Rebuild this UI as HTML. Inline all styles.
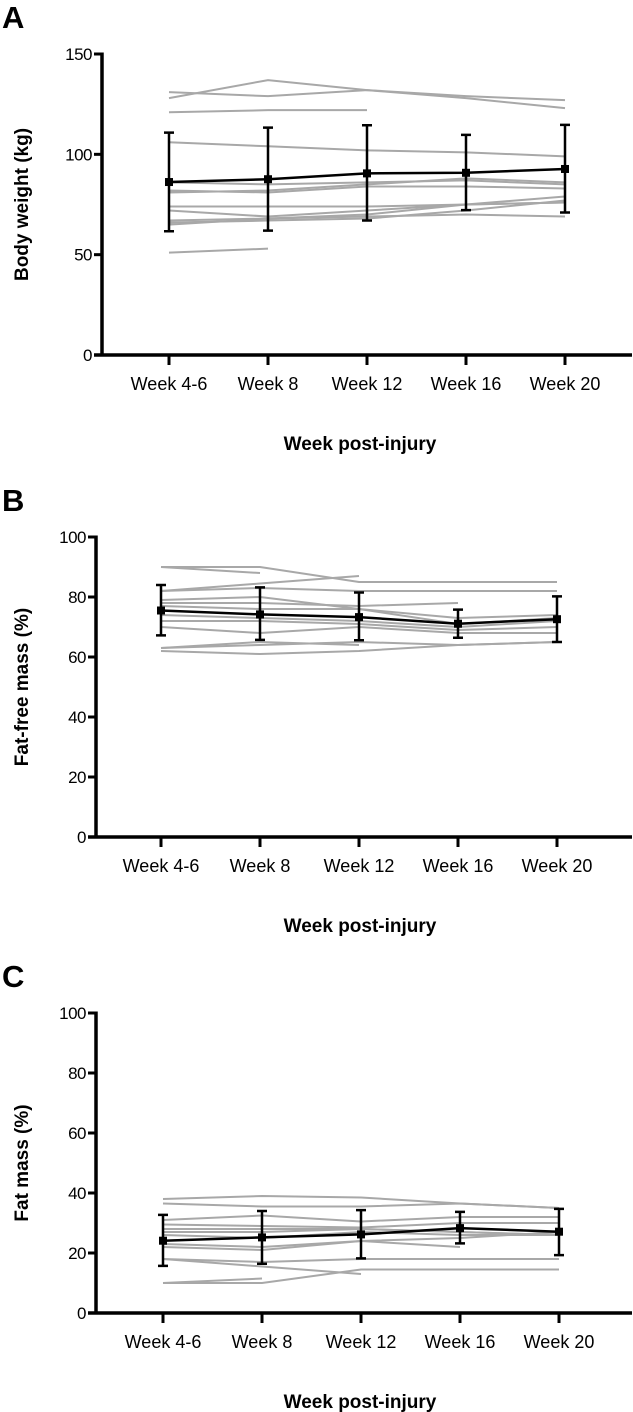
<!DOCTYPE html>
<html><head><meta charset="utf-8">
<style>
html,body{margin:0;padding:0;background:#fff;}
svg{display:block;font-family:"Liberation Sans",Arial,sans-serif;}
</style></head>
<body>
<svg id="fig" width="633" height="1412" viewBox="0 0 633 1412"></svg>
<script>
const categories = ["Week 4-6","Week 8","Week 12","Week 16","Week 20"];

const aTicks = [0,50,100,150];
const aMean = [86.2,87.6,90.5,90.8,92.7];
const aUpper = [110.8,113.3,114.5,109.7,114.7];
const aLower = [61.7,62,67,72.2,71];
const aIndiv = [
 [128,137,132,128,123],[131,129,132,129,127],[121,122,122,null,null],
 [106,104,102,101,99],[86,85,86,87,85],[82,81,84,84,83],[81,82,85,88,86],
 [74,74,74,75,76],[72,69,72,75,79],[67,68,69,70,69],[66,67,68,72,77],
 [65,68,70,75,76],[51,53,null,null,null]];

const bTicks = [0,20,40,60,80,100];
const bMean = [75.5,74.2,73.3,71.1,72.6];
const bUpper = [84,83.2,81.5,75.8,80.2];
const bLower = [67.2,65.7,65.6,66.4,65];
const bIndiv = [
 [90,90,85,85,85],[90,88,null,null,null],[82,84.5,87,null,null],[82,83,82,82,82],
 [79,80,76,73,74],[78,78,77,78,null],[77,76,76,71,73],[74,73,72,70,72],
 [72,72,71,69,70],[70,68,70,68,68],[63,65,64,null,null],[63,64,65,64,65],[62,61,62,64,65]];

const cTicks = [0,20,40,60,80,100];
const cMean = [24.1,25.2,26.2,28.3,27.1];
const cUpper = [32.7,34,34.3,33.7,34.7];
const cLower = [15.7,16.4,18.2,23.2,19.3];
const cIndiv = [
 [38,39,38.5,36.5,35],[36.5,35.5,35.5,36.5,35],[31,32.5,30.5,32,32],[29.5,29,28.5,30,30],
 [28,28,28,27,26],[27,27,28,27,26],[26,25,27,26,26],[23,22,24,25,27],[22,21,24,22,null],
 [18,17,18,18,18],[18,15.5,13,null,null],[10,10,14.5,14.5,14.5],[10,11.5,null,null,null]];

const NS = "http://www.w3.org/2000/svg";
const svg = document.getElementById('fig');
function mk(tag, attrs, parent){
  const e = document.createElementNS(NS, tag);
  for (const k in attrs) e.setAttribute(k, attrs[k]);
  (parent||svg).appendChild(e);
  return e;
}

function panel(cfg){
  const g = mk('g', {});
  
  
  const yS = v => cfg.y0 - v * (cfg.y0 - cfg.yTop) / cfg.max;
  const xS = i => cfg.x0 + cfg.step * i;

  const letter = mk('text', {x:2, y:cfg.yTop-26, 'font-size':31, 'font-weight':'bold', fill:'#000'}, g);
  letter.textContent = cfg.letter;
  
  

  cfg.indiv.forEach(series => {
    let d = '', started = false;
    series.forEach((v, i) => {
      if (v === null) { started = false; return; }
      d += (started ? 'L' : 'M') + xS(i) + ' ' + yS(v) + ' ';
      started = true;
    });
    const p = mk('path', {d:d, fill:'none', stroke:'#a8a8a8', 'stroke-width':2}, g);
    
    
  });

  cfg.mean.forEach((m, i) => {
    const x = xS(i);
    const eb = mk('path', {d:`M${x} ${yS(cfg.upper[i])}V${yS(cfg.lower[i])}M${x-5} ${yS(cfg.upper[i])}H${x+5}M${x-5} ${yS(cfg.lower[i])}H${x+5}`, stroke:'#000', 'stroke-width':2.5, fill:'none'}, g);
    
    
  });
  const md = cfg.mean.map((m,i)=>(i?'L':'M')+xS(i)+' '+yS(m)).join(' ');
  const ml = mk('path', {d:md, stroke:'#000', 'stroke-width':2.5, fill:'none'}, g);
  
  
  cfg.mean.forEach((m, i) => {
    const r = mk('rect', {x:xS(i)-4, y:yS(m)-4, width:8, height:8, fill:'#000'}, g);
    
    
  });

  const ya = mk('line', {x1:cfg.ax, y1:cfg.yTop-1.5, x2:cfg.ax, y2:cfg.y0+1.5, stroke:'#000', 'stroke-width':3.5}, g);
  
  
  const xa = mk('line', {x1:cfg.ax-8, y1:cfg.y0, x2:632, y2:cfg.y0, stroke:'#000', 'stroke-width':3.5}, g);
  
  
  cfg.ticks.forEach(t => {
    const y = yS(t);
    mk('line', {x1:cfg.ax-8, y1:y, x2:cfg.ax, y2:y, stroke:'#000', 'stroke-width':3}, g);
    const tl = mk('text', {x:cfg.ax-10, y:y+6, 'font-size':17, 'text-anchor':'end', fill:'#000', 'letter-spacing':'-0.5'}, g);
    tl.textContent = t;
    
    
  });
  categories.forEach((c, i) => {
    const x = xS(i);
    mk('line', {x1:x, y1:cfg.y0, x2:x, y2:cfg.y0+10, stroke:'#000', 'stroke-width':3}, g);
    const tl = mk('text', {x:x, y:cfg.y0+35, 'font-size':18, 'text-anchor':'middle', fill:'#000'}, g);
    tl.textContent = c;
    
    
  });
  const xt = mk('text', {x:360, y:cfg.y0+95, 'font-size':19, 'font-weight':'bold', 'text-anchor':'middle', fill:'#000'}, g);
  xt.textContent = 'Week post-injury';
  
  
  const cy = (cfg.yTop + cfg.y0) / 2;
  const yt = mk('text', {x:0, y:0, 'font-size':19, 'font-weight':'bold', 'text-anchor':'middle', fill:'#000', transform:`translate(28 ${cy}) rotate(-90)`}, g);
  yt.textContent = cfg.ytitle;
  
  
}

panel({id:'body-weight', letter:'A', ax:102, x0:169, step:99, y0:355, yTop:54, max:150, ticks:aTicks,
  mean:aMean, upper:aUpper, lower:aLower, indiv:aIndiv, ytitle:'Body weight (kg)'});
panel({id:'fat-free-mass', letter:'B', ax:96, x0:161, step:99, y0:837, yTop:537, max:100, ticks:bTicks,
  mean:bMean, upper:bUpper, lower:bLower, indiv:bIndiv, ytitle:'Fat-free mass (%)'});
panel({id:'fat-mass', letter:'C', ax:96, x0:163, step:99, y0:1313, yTop:1013, max:100, ticks:cTicks,
  mean:cMean, upper:cUpper, lower:cLower, indiv:cIndiv, ytitle:'Fat mass (%)'});
</script>
</body></html>
